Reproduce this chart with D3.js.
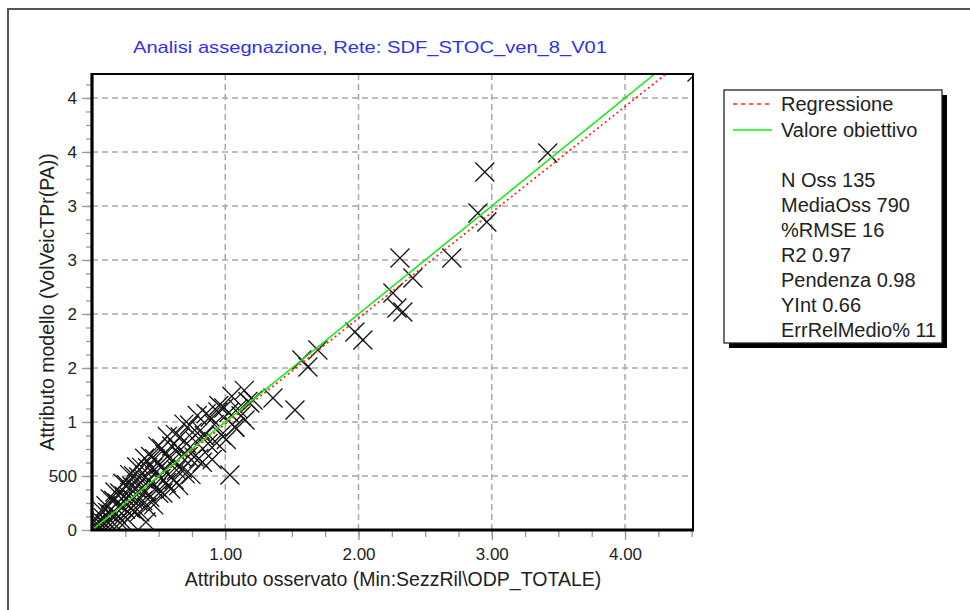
<!DOCTYPE html>
<html>
<head>
<meta charset="utf-8">
<script src="https://cdn.jsdelivr.net/npm/d3@7"></script>
<style>
body { margin: 0; background: #fff; }
text { font-family: "Liberation Sans", Arial, sans-serif; }
</style>
</head>
<body>
<svg id="chart" width="970" height="610"></svg>
<script>
var svg = d3.select('#chart');

// observed / modelled counts, one pair per section (135)
var observed = [
  3420, 2948, 2896, 2963, 2700, 2311, 2408, 2258, 2288, 2333, 1973, 2033, 1575, 1620, 1695,
  1358, 1523, 1185, 4540, 1035, 405, 945, 1148, 1073, 1208,
  22, 35, 44, 57, 63, 78, 86, 97, 105, 118,
  124, 137, 142, 155, 163, 172, 181, 190, 196, 208,
  214, 225, 233, 241, 252, 259, 268, 274, 283, 291,
  298, 306, 313, 321, 329, 335, 344, 351, 358, 366,
  372, 381, 388, 395, 403, 410, 417, 425, 433, 440,
  447, 456, 463, 471, 478, 486, 494, 501, 509, 517,
  524, 532, 540, 548, 557, 565, 573, 581, 590, 598,
  607, 616, 625, 634, 642, 651, 661, 670, 680, 690,
  700, 711, 721, 732, 743, 754, 766, 778, 790, 802,
  815, 828, 842, 856, 871, 886, 902, 918, 935, 952,
  970, 989, 1008, 1028, 1049, 1071, 1094, 1118, 1143, 1170
];
var modelled = [
  3491, 3315, 2935, 2852, 2519, 2518, 2333, 2194, 2056, 2019, 1833, 1759, 1574, 1509, 1667,
  1222, 1111, 1176, 4240, 509, 74, 1093, 1019, 954, 1204,
  52, 15, 114, 67, 28, 173, 111, 57, 225, 163,
  64, 287, 147, 70, 273, 352, 151, 250, 86, 343,
  234, 85, 433, 316, 192, 419, 98, 314, 513, 196,
  408, 286, 503, 171, 389, 585, 269, 491, 168, 381,
  582, 271, 473, 665, 358, 210, 577, 455, 303, 680,
  432, 576, 233, 661, 533, 396, 774, 341, 609, 477,
  754, 342, 550, 698, 437, 865, 513, 661, 380, 778,
  647, 466, 885, 554, 762, 411, 861, 680, 570, 980,
  520, 801, 681, 972, 513, 904, 676, 818, 1060, 662,
  925, 628, 872, 1076, 801, 1046, 652, 978, 805, 1152,
  880, 1129, 838, 1088, 1239, 951, 1124, 1058, 1293, 1190
];

var xTicks = [1000, 2000, 3000, 4000];
var xTickLabels = ["1.00", "2.00", "3.00", "4.00"];
var yTicks = [0, 500, 1000, 1500, 2000, 2500, 3000, 3500, 4000];
var yTickLabels = ["0", "500", "1", "2", "2", "3", "3", "4", "4"];

var slope = 0.98, intercept = 0.66;
var legendNames = ["Regressione", "Valore obiettivo"];
var legendColors = ["#ff2020", "#10ee10"];
var statLines = ["N Oss 135", "MediaOss 790", "%RMSE 16", "R2 0.97", "Pendenza 0.98", "YInt 0.66", "ErrRelMedio% 11"];

var x = d3.scaleLinear().domain([0, 4510]).range([92, 693]);
var y = d3.scaleLinear().domain([0, 4222]).range([530, 74]);

// window border
svg.append("path").attr("d", "M8,610V9H970").attr("fill", "none").attr("stroke", "#555").attr("stroke-width", 2);

svg.append("text").attr("x", 370).attr("y", 53).attr("text-anchor", "middle")
  .attr("font-size", 17).attr("fill", "#2f2ff2")
  .attr("textLength", 474).attr("lengthAdjust", "spacingAndGlyphs")
  .text("Analisi assegnazione, Rete: SDF_STOC_ven_8_V01");

svg.append("clipPath").attr("id", "clip").append("rect")
  .attr("x", 92).attr("y", 74).attr("width", 601).attr("height", 456);

// grid
svg.append("g").selectAll("line").data(xTicks).enter().append("line")
  .attr("x1", function(d) { return x(d) }).attr("x2", function(d) { return x(d) })
  .attr("y1", 74).attr("y2", 530)
  .attr("stroke", "#a8a8a8").attr("stroke-width", 1.5).attr("stroke-dasharray", "6,4");
svg.append("g").selectAll("line").data(yTicks.slice(1)).enter().append("line")
  .attr("x1", 92).attr("x2", 693)
  .attr("y1", function(d) { return y(d) }).attr("y2", function(d) { return y(d) })
  .attr("stroke", "#a8a8a8").attr("stroke-width", 1.5).attr("stroke-dasharray", "6,4");

// axes: minor ticks, then labelled major ticks
var xMinor = d3.range(250, 4510, 250);
var yMinor = d3.range(125, 4222, 125);

var gxm = svg.append("g").attr("transform", "translate(0,531)")
  .call(d3.axisBottom(x).tickValues(xMinor).tickSize(6).tickFormat(""));
var gx = svg.append("g").attr("transform", "translate(0,531)")
  .call(d3.axisBottom(x).tickValues(xTicks).tickSize(9).tickPadding(8)
    .tickFormat(function(d, i) { return xTickLabels[i] }));
var gym = svg.append("g").attr("transform", "translate(91,0)")
  .call(d3.axisLeft(y).tickValues(yMinor).tickSize(5).tickFormat(""));
var gy = svg.append("g").attr("transform", "translate(91,0)")
  .call(d3.axisLeft(y).tickValues(yTicks).tickSize(9).tickPadding(5)
    .tickFormat(function(d, i) { return yTickLabels[i] }));

[gxm, gx, gym, gy].forEach(function(g) {
  g.select(".domain").remove();
  g.selectAll(".tick line").attr("stroke", "#999").attr("stroke-width", 1.3);
  g.selectAll(".tick text").attr("font-size", 17).attr("fill", "#222")
    .attr("font-family", '"Liberation Sans", Arial, sans-serif');
});

var plot = svg.append("g").attr("clip-path", "url(#clip)");

plot.selectAll(".pt").data(observed).enter().append("path").attr("class", "pt")
  .attr("transform", function(d, i) { return "translate(" + x(d) + "," + y(modelled[i]) + ")" })
  .attr("d", "M-9.5,-9.5L9.5,9.5M-9.5,9.5L9.5,-9.5")
  .attr("stroke", "#151515").attr("stroke-width", 1.3).attr("fill", "none");

var line = d3.line().x(function(d) { return x(d[0]) }).y(function(d) { return y(d[1]) });
plot.append("path").datum([[0, intercept], [4510, intercept + slope * 4510]])
  .attr("d", line).attr("stroke", legendColors[0]).attr("stroke-width", 1.7)
  .attr("stroke-dasharray", "2,3").attr("fill", "none");
plot.append("path").datum([[0, 0], [4510, 4510]])
  .attr("d", line).attr("stroke", legendColors[1]).attr("stroke-width", 1.5).attr("fill", "none");

// plot frame
svg.append("path").attr("d", "M92,74H693V530").attr("fill", "none").attr("stroke", "#000").attr("stroke-width", 2);
svg.append("path").attr("d", "M92,73V530H694").attr("fill", "none").attr("stroke", "#000").attr("stroke-width", 3.2);

svg.append("text").attr("x", 393).attr("y", 586).attr("text-anchor", "middle")
  .attr("font-size", 19.5).attr("fill", "#222")
  .text("Attributo osservato (Min:SezzRil\\ODP_TOTALE)");
svg.append("text").attr("transform", "translate(54,302) rotate(-90)").attr("text-anchor", "middle")
  .attr("font-size", 19.5).attr("fill", "#222")
  .text("Attributo modello (VolVeicTPr(PA))");

// legend
var legend = svg.append("g");
legend.append("rect").attr("x", 729).attr("y", 95).attr("width", 218).attr("height", 253).attr("fill", "#000");
legend.append("rect").attr("x", 724).attr("y", 90).attr("width", 218).attr("height", 253)
  .attr("fill", "#fff").attr("stroke", "#222").attr("stroke-width", 1.3);

var eachlegend = legend.selectAll(".legendc").data(legendNames).enter().append("g").attr("class", "legendc");
eachlegend.append("line").attr("x1", 733).attr("x2", 772)
  .attr("y1", function(d, i) { return 104 + i * 26 }).attr("y2", function(d, i) { return 104 + i * 26 })
  .attr("stroke", function(d, i) { return legendColors[i] }).attr("stroke-width", 1.6)
  .attr("stroke-dasharray", function(d, i) { return i == 0 ? "4,4" : null });
eachlegend.append("text").attr("x", 781).attr("y", function(d, i) { return 111 + i * 26 })
  .attr("font-size", 20).attr("fill", "#222").text(function(d) { return d });

legend.selectAll(".stat").data(statLines).enter().append("text").attr("class", "stat")
  .attr("x", 781).attr("y", function(d, i) { return 187 + i * 25 })
  .attr("font-size", 20).attr("fill", "#222").text(function(d) { return d });
</script>
</body>
</html>
